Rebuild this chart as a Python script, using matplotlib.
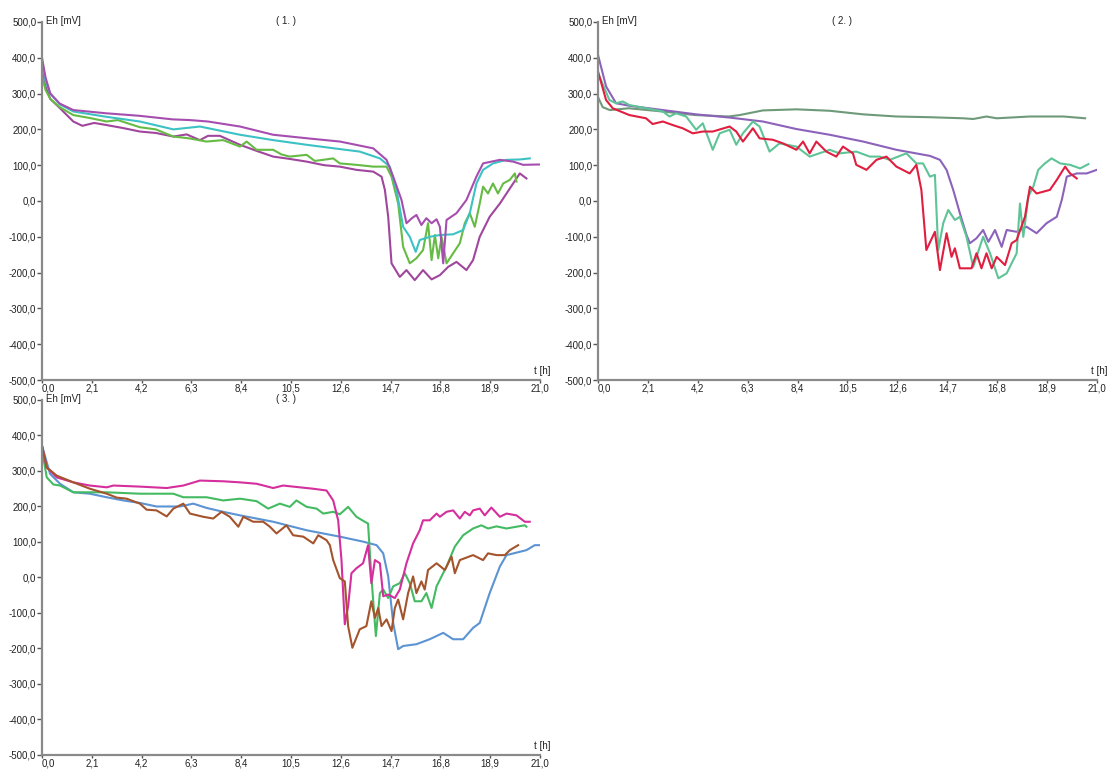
import numpy as np
import matplotlib
matplotlib.use("Agg")
import matplotlib.pyplot as plt
from matplotlib.ticker import FuncFormatter

plt.rcParams["font.family"] = ["Liberation Sans", "DejaVu Sans"]

# ---- panel 1 -------------------------------------------------------------
p1_upper_t = [0, 0.15, 0.35, 0.75, 1.32, 2.7, 4.1, 5.5, 6.24, 7.0, 8.35, 9.75, 11.2,
              12.57, 13.97, 14.53, 14.81, 15.16, 15.37, 15.6, 15.79, 16.0, 16.21,
              16.43, 16.64, 16.78, 16.92, 17.06, 17.48, 17.9, 18.32, 18.6, 19.31,
              19.87, 20.29, 21.0]
p1_upper_mv = [400, 345, 300, 272, 254, 245, 238, 228, 226, 222, 208, 185, 175,
               166, 147, 115, 68, 3, -62, -48, -39, -67, -48, -62, -51, -72, -174,
               -53, -34, 3, 68, 105, 115, 110, 101, 102]

p1_cyan_t = [0, 0.15, 0.35, 0.75, 1.32, 2.73, 4.13, 5.54, 6.66, 8.35, 9.75, 11.16,
             12.56, 13.4, 14.25, 14.67, 14.95, 15.23, 15.51, 15.76, 15.93, 16.35,
             16.78, 17.34, 17.76, 18.04, 18.32, 18.6, 19.02, 19.59, 20.15, 20.57]
p1_cyan_mv = [390, 335, 300, 270, 250, 235, 222, 200, 208, 185, 170, 157, 145, 138,
              119, 96, 31, -72, -100, -142, -109, -100, -95, -93, -81, -34, 49, 87,
              105, 115, 116, 119]

p1_green_t = [0, 0.15, 0.35, 0.75, 1.32, 2.0, 2.73, 3.2, 4.13, 4.8, 5.54, 6.2, 6.94,
              7.64, 8.35, 8.63, 9.05, 9.75, 10.1, 10.45, 11.16, 11.5, 11.86, 12.28,
              12.56, 13.26, 13.97, 14.53, 14.74, 15.02, 15.23, 15.51, 15.79, 16.07,
              16.28, 16.43, 16.57, 16.71, 16.85, 17.06, 17.34, 17.62, 17.83, 18.04,
              18.25, 18.46, 18.6, 18.81, 19.02, 19.23, 19.45, 19.73, 19.94, 20.01]
p1_green_mv = [350, 310, 285, 262, 240, 232, 222, 226, 206, 200, 180, 175, 166, 170,
               152, 166, 143, 143, 130, 124, 129, 112, 115, 119, 105, 101, 96, 96,
               68, -7, -128, -174, -160, -137, -62, -165, -95, -160, -100, -174,
               -146, -118, -62, -34, -72, -7, 40, 21, 49, 21, 49, 59, 77, 54]

p1_lower_t = [0, 0.15, 0.35, 0.76, 1.32, 1.7, 2.2, 2.73, 3.4, 4.13, 4.8, 5.54, 6.1,
              6.66, 7.0, 7.5, 8.35, 9.05, 9.75, 10.4, 11.16, 11.9, 12.56, 13.26,
              13.97, 14.32, 14.46, 14.6, 14.74, 15.09, 15.37, 15.72, 16.07, 16.43,
              16.78, 17.13, 17.48, 17.9, 18.18, 18.46, 18.88, 19.31, 19.59, 19.87,
              20.15, 20.43]
p1_lower_mv = [365, 320, 285, 259, 222, 210, 218, 212, 204, 194, 190, 180, 186, 170,
               182, 182, 157, 140, 124, 118, 110, 100, 96, 87, 82, 68, 31, -44,
               -174, -212, -193, -221, -193, -219, -207, -184, -170, -193, -165,
               -100, -44, -7, 21, 49, 77, 63]

# ---- panel 2 -------------------------------------------------------------
p2_gray_t = [0, 0.2, 0.5, 1.3, 2.7, 4.1, 5.5, 5.96, 6.94, 8.35, 9.75, 11.16, 12.56,
             13.97, 15.37, 15.79, 16.35, 16.78, 18.18, 19.59, 20.5]
p2_gray_mv = [290, 262, 254, 259, 250, 240, 236, 240, 253, 256, 252, 242, 236, 234,
              231, 229, 236, 231, 236, 236, 231]

p2_purple_t = [0, 0.34, 0.76, 1.32, 2.73, 4.13, 5.54, 6.94, 8.35, 9.75, 11.16, 12.56,
               13.97, 14.39, 14.67, 14.95, 15.23, 15.51, 15.65, 15.93, 16.21, 16.43,
               16.71, 16.99, 17.2, 17.62, 18.04, 18.46, 18.88, 19.31, 19.52, 19.73,
               20.15, 20.57, 20.99]
p2_purple_mv = [408, 320, 273, 266, 254, 242, 233, 222, 201, 185, 166, 143, 126, 115,
                87, 31, -34, -95, -118, -104, -81, -114, -81, -128, -81, -86, -72,
                -90, -62, -44, 3, 68, 77, 77, 87]

p2_green_t = [0, 0.06, 0.48, 0.76, 1.04, 1.32, 2.02, 2.73, 3.01, 3.29, 3.71, 4.13,
              4.41, 4.83, 5.12, 5.54, 5.82, 6.1, 6.52, 6.8, 7.22, 7.64, 8.35, 8.91,
              9.75, 10.17, 10.87, 11.44, 11.86, 12.28, 12.98, 13.4, 13.68, 13.97,
              14.18, 14.32, 14.53, 14.74, 15.02, 15.23, 15.51, 15.79, 16.21, 16.5,
              16.85, 17.2, 17.62, 17.76, 17.9, 18.11, 18.32, 18.53, 18.81, 19.09,
              19.45, 19.87, 20.29, 20.64]
p2_green_mv = [355, 348, 282, 273, 278, 268, 259, 250, 236, 245, 236, 199, 217, 143,
               189, 199, 157, 189, 222, 208, 138, 161, 152, 124, 143, 133, 138, 124,
               124, 115, 133, 105, 105, 68, 73, -137, -62, -25, -53, -44, -100, -184,
               -100, -146, -216, -202, -146, -7, -100, 12, 40, 87, 105, 119, 105,
               101, 91, 103]

p2_red_t = [0, 0.34, 0.62, 1.32, 2.02, 2.3, 2.73, 3.15, 3.57, 3.99, 4.41, 4.83, 5.54,
            5.82, 6.1, 6.52, 6.8, 7.36, 7.78, 8.35, 8.63, 8.91, 9.19, 9.61, 10.03,
            10.31, 10.73, 10.87, 11.3, 11.72, 12.14, 12.56, 13.12, 13.4, 13.61, 13.82,
            14.18, 14.39, 14.67, 14.88, 15.02, 15.23, 15.72, 15.93, 16.14, 16.35,
            16.57, 16.78, 17.13, 17.41, 17.62, 17.97, 18.18, 18.46, 19.02, 19.31,
            19.66, 19.87, 20.15]
p2_red_mv = [362, 282, 259, 240, 231, 215, 222, 212, 203, 189, 194, 194, 208, 194,
             166, 203, 175, 171, 161, 143, 166, 133, 166, 138, 124, 152, 133, 101, 87,
             115, 124, 96, 77, 101, 31, -137, -86, -193, -90, -156, -132, -188, -188,
             -146, -188, -146, -188, -156, -179, -118, -109, -44, 40, 21, 31, 59, 96,
             77, 63]

# ---- panel 3 -------------------------------------------------------------
p3_pink_t = [0, 0.2, 0.62, 1.32, 2.02, 2.45, 2.73, 3.01, 4.13, 5.26, 5.96, 6.66, 7.64,
             8.35, 9.05, 9.75, 10.17, 10.87, 11.44, 12.0, 12.28, 12.49, 12.63, 12.77,
             12.91, 13.05, 13.26, 13.54, 13.75, 13.89, 14.04, 14.25, 14.39, 14.6,
             14.88, 15.09, 15.37, 15.65, 15.93, 16.07, 16.35, 16.64, 16.78, 17.06,
             17.34, 17.62, 17.83, 18.04, 18.18, 18.46, 18.67, 18.95, 19.31, 19.59,
             20.01, 20.36, 20.57]
p3_pink_mv = [371, 310, 282, 268, 259, 256, 254, 259, 256, 252, 259, 273, 271, 268,
              264, 252, 259, 254, 250, 245, 217, 161, 49, -132, -81, 12, 26, 40, 91,
              -16, 49, 40, -53, -48, -58, -34, 40, 96, 133, 161, 161, 180, 171, 185,
              189, 166, 185, 175, 189, 194, 175, 197, 171, 180, 175, 157, 157]

p3_green_t = [0, 0.2, 0.48, 0.76, 1.32, 2.73, 4.13, 5.54, 5.96, 6.94, 7.64, 8.35, 9.05,
              9.33, 9.54, 10.03, 10.45, 10.73, 11.16, 11.58, 11.86, 12.28, 12.56,
              12.91, 13.26, 13.61, 13.75, 13.89, 14.08, 14.25, 14.39, 14.6, 14.81,
              15.09, 15.3, 15.51, 15.72, 16.0, 16.21, 16.43, 16.64, 17.06, 17.41,
              17.76, 18.18, 18.53, 18.81, 19.17, 19.59, 20.01, 20.36, 20.43]
p3_green_mv = [360, 282, 262, 259, 240, 240, 236, 236, 226, 226, 217, 222, 215, 203,
               194, 208, 199, 217, 199, 194, 180, 185, 178, 199, 171, 157, 152, 3,
               -165, -44, -34, -58, -25, -16, 12, -16, -67, -67, -44, -86, -25, 31,
               87, 119, 138, 147, 138, 144, 138, 143, 147, 143]

p3_blue_t = [0, 0.34, 0.76, 1.32, 2.02, 2.73, 3.43, 4.13, 4.83, 5.82, 6.38, 6.94, 7.64,
             8.35, 9.75, 11.16, 12.56, 13.54, 14.11, 14.39, 14.6, 14.81, 15.02, 15.23,
             15.79, 16.35, 16.92, 17.34, 17.76, 18.18, 18.46, 18.88, 19.31, 19.59,
             20.01, 20.43, 20.78, 20.99]
p3_blue_mv = [371, 292, 264, 240, 236, 226, 217, 210, 200, 200, 208, 196, 185, 175,
              157, 133, 115, 101, 91, 68, 3, -128, -202, -193, -188, -174, -156, -174,
              -174, -142, -128, -44, 31, 63, 70, 77, 91, 91]

p3_brown_t = [0, 0.2, 0.62, 1.32, 2.02, 2.73, 3.15, 3.57, 4.13, 4.41, 4.83, 5.26, 5.54,
              5.96, 6.24, 6.8, 7.22, 7.57, 7.92, 8.28, 8.49, 8.91, 9.33, 9.61, 9.89,
              10.31, 10.59, 11.02, 11.44, 11.65, 12.0, 12.14, 12.28, 12.56, 12.77,
              12.91, 13.09, 13.4, 13.68, 13.89, 14.04, 14.18, 14.32, 14.53, 14.74,
              14.88, 15.02, 15.23, 15.44, 15.65, 15.79, 16.0, 16.14, 16.28, 16.64,
              16.99, 17.27, 17.41, 17.62, 18.18, 18.6, 18.81, 19.17, 19.52, 19.73,
              20.08]
p3_brown_mv = [371, 310, 287, 268, 250, 236, 225, 222, 208, 191, 189, 172, 194, 208,
               180, 171, 166, 185, 171, 143, 171, 157, 157, 143, 124, 147, 119, 115,
               96, 119, 105, 91, 49, -2, -11, -137, -198, -146, -137, -67, -114, -86,
               -137, -118, -151, -86, -62, -118, -44, 3, -44, -11, -34, 21, 40, 21,
               59, 12, 49, 63, 49, 68, 63, 63, 77, 91]

panel_titles = ["( 1. )", "( 2. )", "( 3. )"]
x_ticks = [0.0, 2.1, 4.2, 6.3, 8.4, 10.5, 12.6, 14.7, 16.8, 18.9, 21.0]
y_ticks = [-500, -400, -300, -200, -100, 0, 100, 200, 300, 400, 500]

AXIS_GRAY = "#8a8a8a"
TEXT_COLOR = "#222222"


def comma_fmt(v, _pos):
    return f"{v:.1f}".replace(".", ",")


def style_axes(ax, title):
    ax.set_xlim(0, 21)
    ax.set_ylim(-500, 500)
    for side in ("top", "right"):
        ax.spines[side].set_visible(False)
    for side in ("left", "bottom"):
        ax.spines[side].set_color(AXIS_GRAY)
        ax.spines[side].set_linewidth(1.6)
    ax.set_xticks(x_ticks)
    ax.set_yticks(y_ticks)
    ax.xaxis.set_major_formatter(FuncFormatter(comma_fmt))
    ax.yaxis.set_major_formatter(FuncFormatter(comma_fmt))
    ax.tick_params(axis="y", direction="out", length=3.6, width=1,
                   color="#555555", labelsize=7, labelcolor=TEXT_COLOR, pad=0.5)
    ax.tick_params(axis="x", direction="out", length=2.2, width=1,
                   color="#555555", labelsize=7, labelcolor=TEXT_COLOR, pad=0.3)
    # first x label sits to the right of the corner, like the original
    ax.get_xticklabels()[0].set_horizontalalignment("left")
    ax.text(0.008, 1.002, "Eh [mV]", transform=ax.transAxes, fontsize=7,
            ha="left", va="center", color=TEXT_COLOR)
    ax.text(0.49, 1.002, title, transform=ax.transAxes, fontsize=7,
            ha="center", va="center", color=TEXT_COLOR)
    ax.text(1.004, 0.024, "t [h]", transform=ax.transAxes, fontsize=7,
            ha="center", va="center", color=TEXT_COLOR)


fig = plt.figure(figsize=(11.14, 7.71), dpi=100)
ax1 = fig.add_axes([0.0377, 0.5071, 0.447, 0.4644])
ax2 = fig.add_axes([0.5368, 0.5071, 0.4479, 0.4644])
ax3 = fig.add_axes([0.0377, 0.0208, 0.447, 0.4604])

lw = 1.5
ax1.plot(p1_lower_t, p1_lower_mv, color="#a0469c", lw=lw)
ax1.plot(p1_green_t, p1_green_mv, color="#66bb44", lw=lw)
ax1.plot(p1_cyan_t, p1_cyan_mv, color="#3cc2c4", lw=lw)
ax1.plot(p1_upper_t, p1_upper_mv, color="#a64eb0", lw=lw)

ax2.plot(p2_gray_t, p2_gray_mv, color="#6e9a7a", lw=lw)
ax2.plot(p2_purple_t, p2_purple_mv, color="#8c62ba", lw=lw)
ax2.plot(p2_green_t, p2_green_mv, color="#5ec497", lw=lw)
ax2.plot(p2_red_t, p2_red_mv, color="#e01e40", lw=lw)

ax3.plot(p3_blue_t, p3_blue_mv, color="#5b93d3", lw=lw)
ax3.plot(p3_green_t, p3_green_mv, color="#44bb62", lw=lw)
ax3.plot(p3_pink_t, p3_pink_mv, color="#d42f9c", lw=lw)
ax3.plot(p3_brown_t, p3_brown_mv, color="#a4542c", lw=lw)

for ax, title in zip([ax1, ax2, ax3], panel_titles):
    style_axes(ax, title)

fig.savefig("out.png", dpi=100)
